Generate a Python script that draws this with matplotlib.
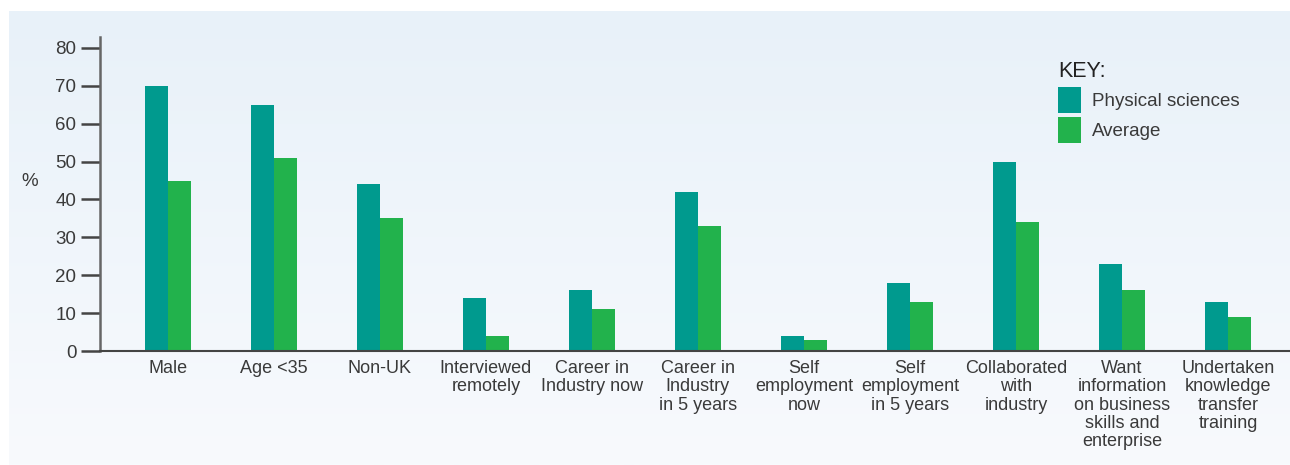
import numpy as np
import matplotlib
matplotlib.use("Agg")
import matplotlib.pyplot as plt

categories = ["Male", "Age <35", "Non-UK", "Interviewed\nremotely", "Career in\nIndustry now",
              "Career in\nIndustry\nin 5 years", "Self\nemployment\nnow", "Self\nemployment\nin 5 years",
              "Collaborated\nwith\nindustry", "Want\ninformation\non business\nskills and\nenterprise",
              "Undertaken\nknowledge\ntransfer\ntraining"]
physical = [70, 65, 44, 14, 16, 42, 4, 18, 50, 23, 13]
average = [45, 51, 35, 4, 11, 33, 3, 13, 34, 16, 9]
yticks = [0, 10, 20, 30, 40, 50, 60, 70, 80]

plt.rcParams['font.family'] = ['Liberation Sans', 'DejaVu Sans']
txt = '#3a3a3a'
teal = '#009a8e'
green = '#22b24c'

fig = plt.figure(figsize=(12.9, 4.65), dpi=100)
fig.patch.set_facecolor('white')

# gradient background panel
bg = fig.add_axes([9/1290, 0, 1 - 9/1290, (465 - 11)/465], zorder=0)
grad = np.linspace(0, 1, 256).reshape(-1, 1)
c_top = np.array([0xe8, 0xf1, 0xf9]) / 255
c_bot = np.array([0xf8, 0xfa, 0xfd]) / 255
img = c_top[None, None, :] * (1 - grad[:, :, None]) + c_bot[None, None, :] * grad[:, :, None]
bg.imshow(img, aspect='auto', extent=[0, 1, 0, 1], origin='upper')
bg.set_axis_off()

ax = fig.add_axes([100/1290, (465-351)/465, 1 - 100/1290, (351-37)/465], zorder=1)
ax.patch.set_alpha(0)

x = np.arange(len(categories))
w = 0.217
ax.bar(x - w/2, physical, width=w, color=teal, label='Physical sciences')
ax.bar(x + w/2, average, width=w, color=green, label='Average')

ax.set_xlim(-0.64, len(categories) - 1 + 0.585)
ax.set_ylim(0, 82.9)
ax.set_yticks(yticks)
ax.set_yticklabels([str(v) for v in yticks])
ax.set_xticks(x)
ax.set_xticklabels(categories, linespacing=1.1)

for s in ['top', 'right']:
    ax.spines[s].set_visible(False)
ax.spines['left'].set_color('#666666')
ax.spines['left'].set_linewidth(1.8)
ax.spines['bottom'].set_color('#444444')
ax.spines['bottom'].set_linewidth(1.5)

ax.tick_params(axis='y', length=14, width=1.8, color='#444444', labelsize=13.5,
               labelcolor=txt, pad=3)
ax.tick_params(axis='x', length=0, labelsize=13, labelcolor=txt, pad=6.5)

fig.text(30/1290, 1 - 181/465, '%', fontsize=13.5, color=txt, ha='center', va='center')

handles, labels = ax.get_legend_handles_labels()
leg = fig.legend(handles, labels, title='KEY:', loc='upper left',
                 bbox_to_anchor=(1058/1290, 1 - 61/465),
                 frameon=False, fontsize=13.5, title_fontsize=15.5, alignment='left',
                 handlelength=1.25, handleheight=1.75, handletextpad=0.55, labelspacing=0.25,
                 borderaxespad=0, borderpad=0)
for t in leg.get_texts():
    t.set_color(txt)
leg.get_title().set_color('#222222')

fig.savefig('out.png', dpi=100)
